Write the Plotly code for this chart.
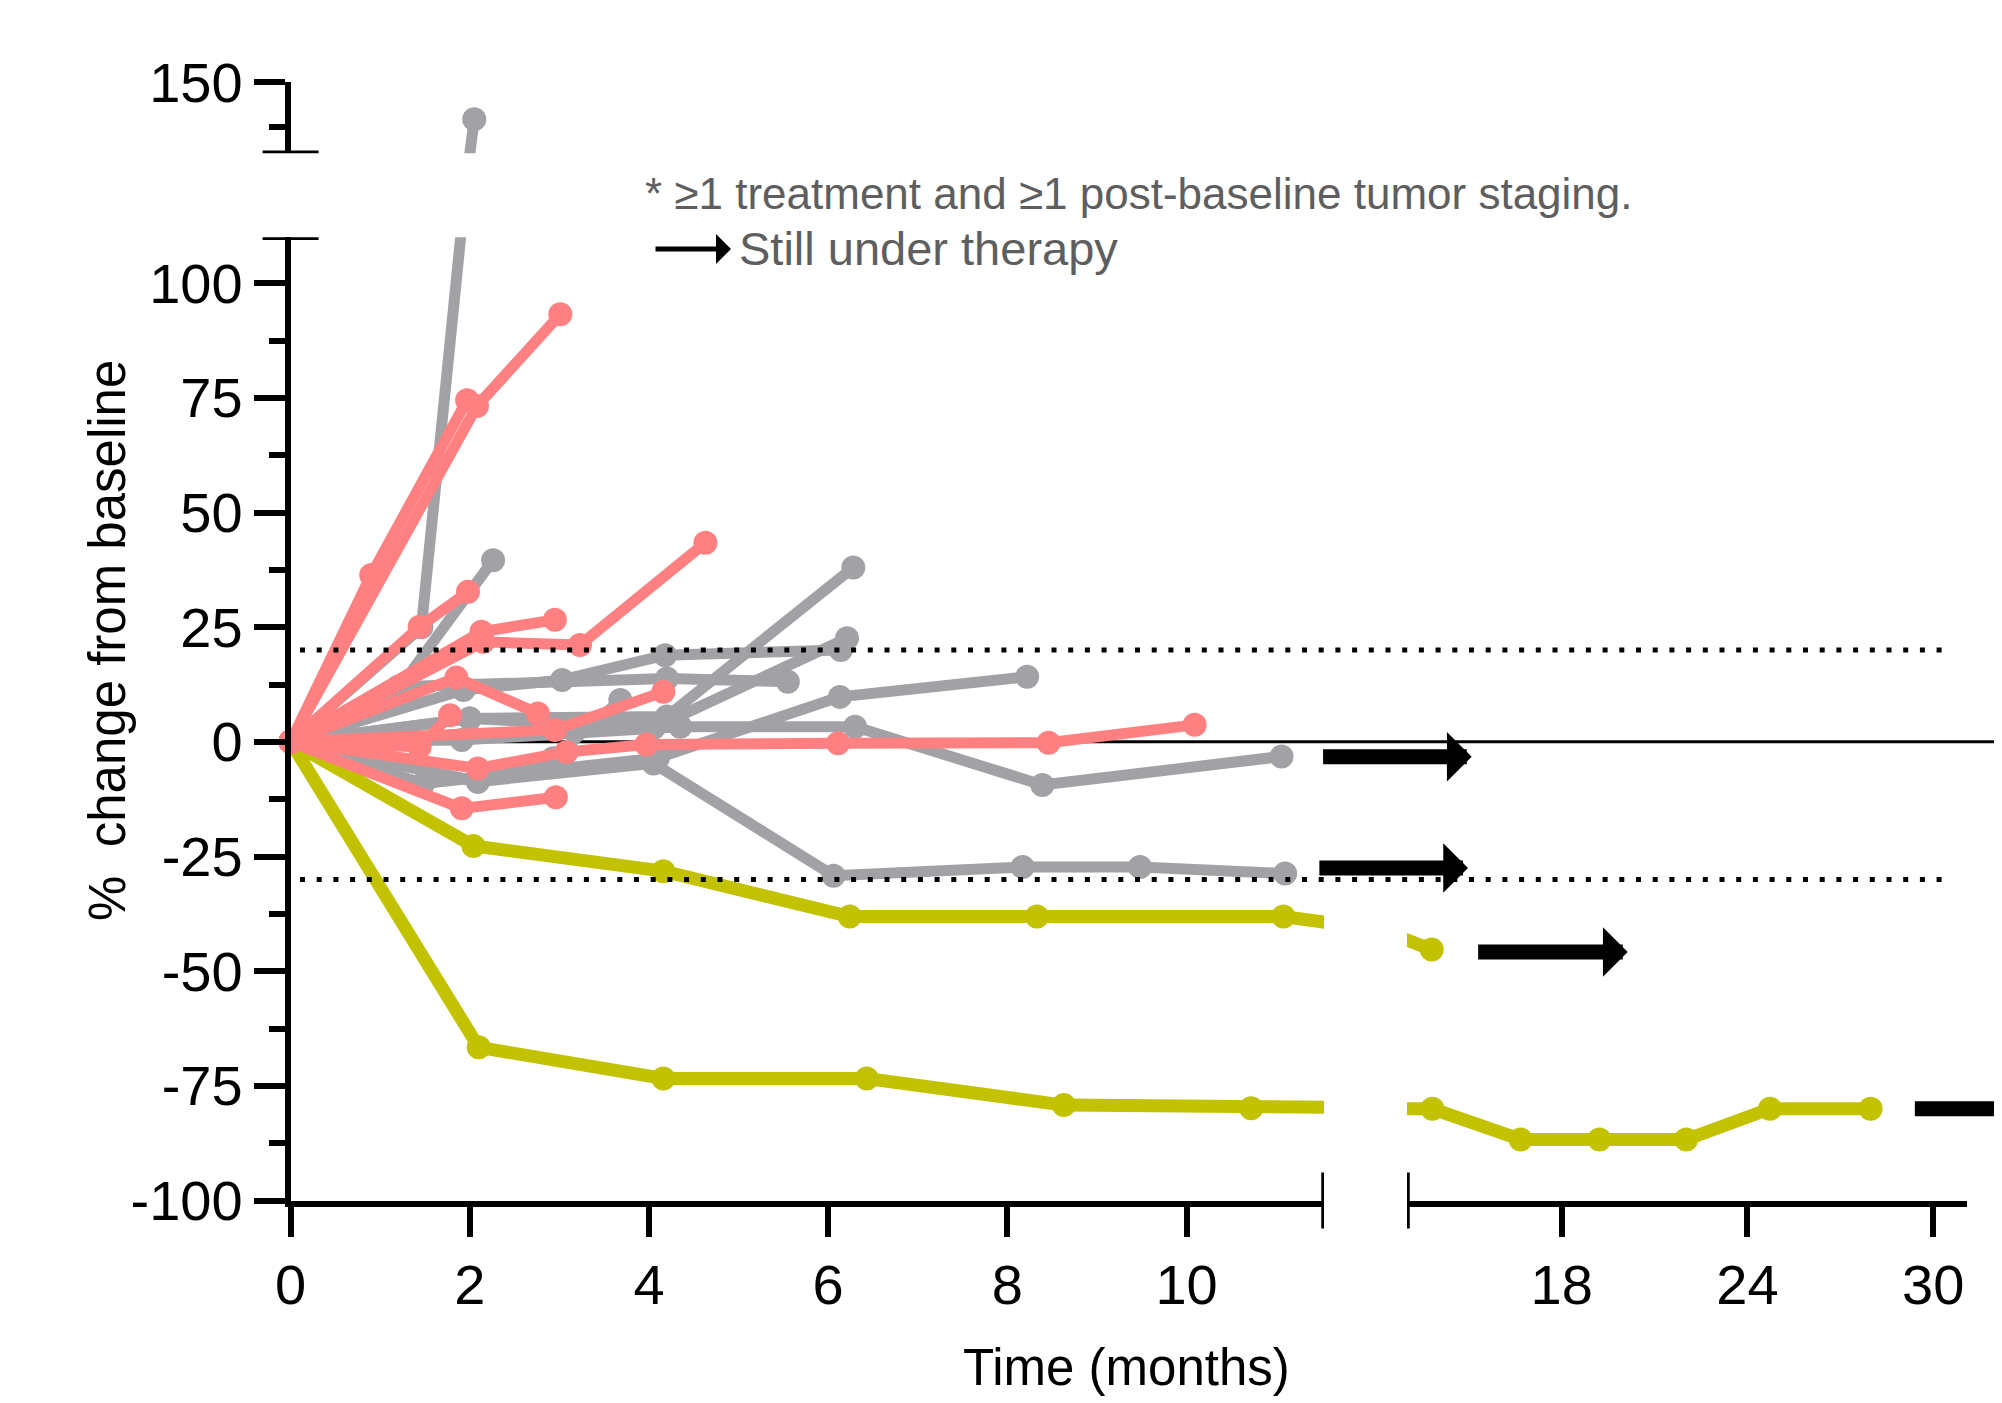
import plotly.graph_objects as go

W, H = 2002, 1403
OFF = 8  # page offset of the plot div, in px

# ---------------- data (months, % change from baseline) ----------------
yellow_x1 = [0, 2.04, 4.16, 6.24, 8.33, 11.08, 13.80]
yellow_y1 = [0, -22.7, -28.2, -38.1, -38.1, -38.1, -45.3]
yellow_x2 = [0, 2.10, 4.16, 6.43, 8.63, 10.72, 13.82, 16.67, 19.22, 22.02, 24.73, 27.98]
yellow_y2 = [0, -66.6, -73.4, -73.4, -79.2, -79.9, -80.0, -86.7, -86.7, -86.7, -80.0, -80.0]

gray_x = [
    [0, 1.46, 2.05],
    [0, 1.17, 2.26],
    [0, 2.00, 4.20, 6.28],
    [0, 1.93, 3.03, 4.18, 6.14],
    [0, 1.20, 4.20, 5.55],
    [0, 1.48, 4.10, 6.13, 8.22],
    [0, 2.09, 4.05, 6.06, 8.17, 9.48, 11.10],
    [0, 1.91, 4.35, 6.30, 8.39, 11.06],
    [0, 2.09, 2.93, 3.68],
    [0, 2.00, 4.05, 6.21],
]
gray_y = [
    [0, 25.0, 139.6],
    [0, 10.6, 39.6],
    [0, 5.1, 5.5, 38.0],
    [0, 11.3, 13.5, 18.9, 20.0],
    [0, 12.0, 13.8, 13.1],
    [0, -9.1, -3.5, 9.8, 14.2],
    [0, -8.7, -4.7, -29.2, -27.3, -27.3, -28.7],
    [0, 0.4, 3.3, 3.3, -9.4, -3.2],
    [0, -8.7, -3.6, 9.1],
    [0, 5.1, 3.0, 22.6],
]

red_x = [
    [0, 0.90, 1.97],
    [0, 2.08, 3.01],
    [0, 1.44, 1.98],
    [0, 2.13, 2.95],
    [0, 2.15, 3.23, 4.63],
    [0, 1.85, 2.76],
    [0, 2.95, 4.16],
    [0, 1.91, 2.96],
    [0, 2.09, 3.08, 3.97, 6.11, 8.46, 10.09],
    [0, 1.44, 1.78],
]
red_y = [
    [0, 36.4, 74.5],
    [0, 73.2, 93.2],
    [0, 25.1, 32.7],
    [0, 24.0, 26.6],
    [0, 21.8, 21.1, 43.4],
    [0, 14.0, 6.2],
    [0, 2.6, 10.9],
    [0, -14.5, -12.1],
    [0, -5.8, -2.2, -0.6, -0.3, -0.2, 3.7],
    [0, -1.1, 5.8],
]

# "still under therapy" arrows (months on the right-hand time axis)
arrow_y = [-3.25, -27.5, -45.8, -80.0]
arrow_x_start = [10.24, 10.12, 15.25, 29.36]
arrow_x_end = [15.09, 14.97, 20.13, 33.8]

y_tickvals = [-100, -75, -50, -25, 0, 25, 50, 75, 100]
y_ticktext = ["-100", "-75", "-50", "-25", "0", "25", "50", "75", "100"]
y2_tickvals = [150]
y2_ticktext = ["150"]
x_tickvals = [0, 2, 4, 6, 8, 10]
x2_tickvals = [18, 24, 30]

thresholds = [20, -30]

# ---------------- styling ----------------
RED = "#FF8080"
GRAY = "#A2A1A6"
YELLOW = "#C2C200"
TXT_GRAY = "#5E5E5E"
FONT = "Liberation Sans, Arial, sans-serif"


def fx(px):
    return (px - OFF) / W


def fy(py):
    return 1 - (py - OFF) / H


XL_DOM = [fx(290.6), fx(1324)]
XR_DOM = [fx(1407), fx(1967)]
YL_DOM = [fy(1200.5), fy(237.3)]
YU_DOM = [fy(153.3), fy(82.3)]
XL_RANGE = [0, (1324 - 290.6) / 89.6]
XR_RANGE = [13, 13 + 560 / 30.95]
YL_RANGE = [-100, 110]
YU_RANGE = [130, 150]

ranges = {"x": XL_RANGE, "x2": XR_RANGE, "y": YL_RANGE, "y2": YU_RANGE}
combos = [("x", "y"), ("x", "y2"), ("x2", "y"), ("x2", "y2")]

fig = go.Figure()


def add_series(xs, ys, color, lw):
    for xa, ya in combos:
        fig.add_trace(go.Scatter(
            x=xs, y=ys, mode="lines", xaxis=xa, yaxis=ya,
            line=dict(color=color, width=lw), hoverinfo="skip", showlegend=False))
        xr, yr = ranges[xa], ranges[ya]
        keep = [(a, b) for a, b in zip(xs, ys)
                if xr[0] <= a <= xr[1] and yr[0] <= b <= yr[1]]
        if keep:
            fig.add_trace(go.Scatter(
                x=[k[0] for k in keep], y=[k[1] for k in keep], mode="markers",
                xaxis=xa, yaxis=ya, cliponaxis=False,
                marker=dict(color=color, size=24, line=dict(width=0)),
                hoverinfo="skip", showlegend=False))


add_series(yellow_x1, yellow_y1, YELLOW, 13)
add_series(yellow_x2, yellow_y2, YELLOW, 13)
for xs, ys in zip(gray_x, gray_y):
    add_series(xs, ys, GRAY, 11)
for xs, ys in zip(red_x, red_y):
    add_series(xs, ys, RED, 11)

tickfont = dict(family=FONT, size=56, color="black")
axis_common = dict(showline=True, linecolor="black", linewidth=5.5, ticks="outside",
                   ticklen=31, tickwidth=5.5, tickcolor="black", showgrid=False,
                   zeroline=False, tickfont=tickfont, fixedrange=True,
                   automargin=False)

fig.update_layout(
    width=W, height=H, margin=dict(l=0, r=0, t=0, b=0, autoexpand=False),
    paper_bgcolor="white", plot_bgcolor="white", showlegend=False,
    xaxis=dict(domain=XL_DOM, range=XL_RANGE, anchor="y", tickmode="array",
               tickvals=x_tickvals, **axis_common),
    xaxis2=dict(domain=XR_DOM, range=XR_RANGE, anchor="y", tickmode="array",
                tickvals=x2_tickvals, **axis_common),
    yaxis=dict(domain=YL_DOM, range=YL_RANGE, anchor="x", tickmode="array",
               tickvals=y_tickvals, ticktext=y_ticktext,
               minor=dict(tick0=-100, dtick=12.5, ticks="outside", ticklen=16,
                          tickwidth=5.5, tickcolor="black"),
               **axis_common),
    yaxis2=dict(domain=YU_DOM, range=YU_RANGE, anchor="x", tickmode="array",
                tickvals=y2_tickvals, ticktext=y2_ticktext,
                minor=dict(tick0=137.5, dtick=12.5, ticks="outside", ticklen=16,
                           tickwidth=5.5, tickcolor="black"),
                **axis_common),
)

shapes = []
# zero line
shapes.append(dict(type="line", xref="paper", yref="y", x0=XL_DOM[0], x1=1, y0=0, y1=0,
                   line=dict(color="black", width=3), layer="below"))
# dotted response thresholds
for t in thresholds:
    shapes.append(dict(type="line", xref="paper", yref="y", x0=fx(300), x1=fx(1953),
                       y0=t, y1=t, line=dict(color="black", width=5, dash="5px,11.7px"),
                       layer="above"))
# axis-break end caps
shapes.append(dict(type="line", xref="x domain", yref="y", xsizemode="pixel", xanchor=0,
                   x0=-28, x1=28, y0=YL_RANGE[1], y1=YL_RANGE[1],
                   line=dict(color="black", width=5.5)))
shapes.append(dict(type="line", xref="x domain", yref="y2", xsizemode="pixel", xanchor=0,
                   x0=-28, x1=28, y0=YU_RANGE[0], y1=YU_RANGE[0],
                   line=dict(color="black", width=5.5)))
shapes.append(dict(type="line", xref="x", yref="y domain", ysizemode="pixel", yanchor=0,
                   y0=-28, y1=28, x0=XL_RANGE[1], x1=XL_RANGE[1],
                   line=dict(color="black", width=5.5)))
shapes.append(dict(type="line", xref="x2", yref="y domain", ysizemode="pixel", yanchor=0,
                   y0=-28, y1=28, x0=XR_RANGE[0], x1=XR_RANGE[0],
                   line=dict(color="black", width=5.5)))
fig.update_layout(shapes=shapes)

annotations = []
for xs, xe, yv in zip(arrow_x_start, arrow_x_end, arrow_y):
    annotations.append(dict(x=xe, y=yv, xref="x2", yref="y", ax=xs, ay=yv,
                            axref="x2", ayref="y", text="", showarrow=True,
                            arrowhead=1, arrowsize=0.55, arrowwidth=15,
                            arrowcolor="black"))
# axis titles
annotations.append(dict(text="%\u00a0 change from baseline", xref="paper", yref="paper",
                        x=fx(108), y=fy(641), textangle=-90, showarrow=False,
                        font=dict(family=FONT, size=51, color="black"),
                        xanchor="center", yanchor="middle"))
annotations.append(dict(text="Time (months)", xref="paper", yref="paper",
                        x=fx(1126), y=fy(1367), showarrow=False,
                        font=dict(family=FONT, size=51, color="black"),
                        xanchor="center", yanchor="middle"))
# legend notes
annotations.append(dict(text="* \u22651 treatment and \u22651 post-baseline tumor staging.",
                        xref="paper", yref="paper", x=fx(643), y=fy(194),
                        showarrow=False, xanchor="left", yanchor="middle",
                        font=dict(family=FONT, size=44, color=TXT_GRAY)))
annotations.append(dict(text="Still under therapy", xref="paper", yref="paper",
                        x=fx(737), y=fy(249), showarrow=False, xanchor="left",
                        yanchor="middle", font=dict(family=FONT, size=47, color=TXT_GRAY)))
annotations.append(dict(text="", xref="paper", yref="paper", x=fx(731), y=fy(249),
                        ax=-77, ay=0, showarrow=True, arrowhead=1, arrowsize=1.0,
                        arrowwidth=5, arrowcolor="black"))
fig.update_layout(annotations=annotations)

fig.write_html("out.html")
